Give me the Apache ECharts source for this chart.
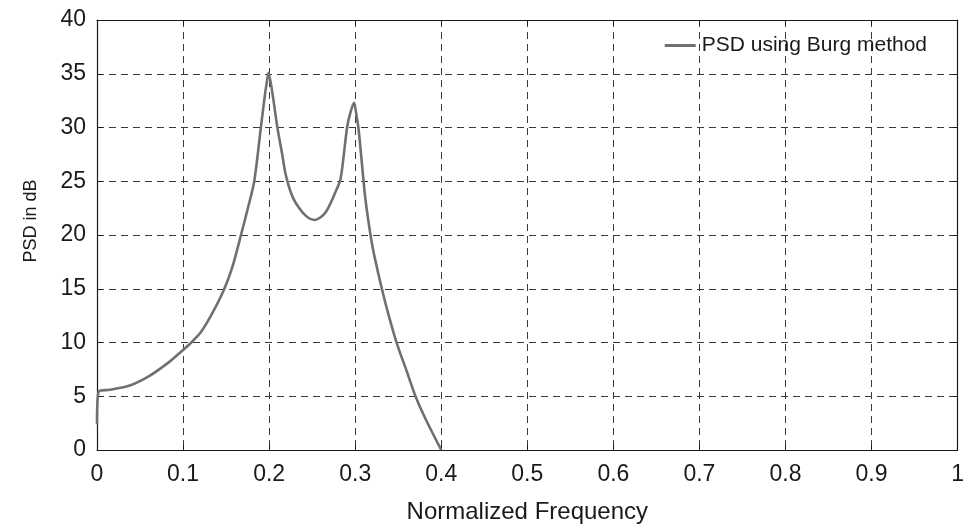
<!DOCTYPE html>
<html>
<head>
<meta charset="utf-8">
<script src="https://cdn.jsdelivr.net/npm/echarts@6/dist/echarts.min.js"></script>
<style>
html,body{margin:0;padding:0;background:#fff;}
#chart{width:967px;height:529px;}
</style>
</head>
<body>
<div id="chart"></div>
<script>
// ---- data ----
const seriesName = 'PSD using Burg method';
const freq = [0, 0.002, 0.015, 0.038, 0.061, 0.084, 0.1, 0.1095, 0.121, 0.1345, 0.148, 0.1576, 0.1673, 0.175, 0.1827, 0.1904, 0.1954, 0.1975, 0.1992,
  0.2038, 0.2096, 0.2154, 0.2193, 0.225, 0.2308, 0.2424, 0.2532, 0.2655, 0.2771, 0.2829, 0.2867, 0.2906, 0.2945, 0.2986,
  0.301, 0.304, 0.308, 0.3118, 0.3176, 0.3214, 0.331, 0.3387, 0.3483, 0.36, 0.3703, 0.3811, 0.4];
const psd = [2.4, 5.45, 5.6, 6.0, 6.9, 8.2, 9.3, 10.0, 11.0, 12.8, 15.0, 17.1, 20.0, 22.4, 25.0, 30.0, 33.2, 34.3, 35.1,
  33.2, 30.0, 27.4, 25.6, 24.0, 23.0, 21.8, 21.4, 22.1, 24.0, 25.2, 27.4, 30.0, 31.4, 32.3,
  31.4, 29.8, 26.5, 23.4, 20.1, 18.4, 15.0, 12.6, 9.95, 7.3, 4.96, 3.0, 0];
const xTicks = [0, 0.1, 0.2, 0.3, 0.4, 0.5, 0.6, 0.7, 0.8, 0.9, 1];
const xTickLabels = ['0', '0.1', '0.2', '0.3', '0.4', '0.5', '0.6', '0.7', '0.8', '0.9', '1'];
const yTickLabels = ['0', '5', '10', '15', '20', '25', '30', '35', '40'];
const xTitle = 'Normalized Frequency';
const yTitle = 'PSD in dB';

const points = freq.map((f, i) => [f, psd[i]]);
const FONT = '"Liberation Sans", Arial, Helvetica, sans-serif';

function xLabel(v) {
  const i = xTicks.findIndex(t => Math.abs(t - v) < 1e-6);
  return i >= 0 ? xTickLabels[i] : '';
}
function yLabel(v) {
  const i = Math.round(v / 5);
  return yTickLabels[i] !== undefined ? yTickLabels[i] : '';
}

const chart = echarts.init(document.getElementById('chart'), null, { renderer: 'canvas' });
const gridLine = { show: true, lineStyle: { color: '#3a3a3a', width: 1, type: [7, 5] } };
chart.setOption({
  backgroundColor: '#ffffff',
  animation: false,
  textStyle: { fontFamily: FONT },
  grid: { left: 97, right: 5, top: 20, bottom: 76, containLabel: false },
  legend: {
    show: true,
    right: 40,
    top: 35,
    padding: 0,
    itemWidth: 31,
    itemHeight: 3,
    icon: 'rect',
    textStyle: { fontSize: 21, color: '#1a1a1a', fontFamily: FONT, padding: [0, 0, 0, 1] },
    data: [{ name: seriesName, itemStyle: { color: '#707070' } }]
  },
  xAxis: [{
    type: 'value', min: 0, max: 1, interval: 0.1, position: 'bottom',
    name: xTitle, nameLocation: 'middle', nameGap: 50,
    nameTextStyle: { fontSize: 24, color: '#1a1a1a', fontFamily: FONT },
    axisLine: { show: true, onZero: false, lineStyle: { color: '#1a1a1a', width: 1.2 } },
    axisTick: { show: true, inside: true, length: 5, lineStyle: { color: '#1a1a1a' } },
    axisLabel: { fontSize: 23, color: '#1a1a1a', margin: 13, formatter: xLabel, fontFamily: FONT },
    splitLine: gridLine
  }, {
    type: 'value', min: 0, max: 1, interval: 0.1, position: 'top',
    axisLine: { show: true, onZero: false, lineStyle: { color: '#1a1a1a', width: 1.2 } },
    axisTick: { show: true, inside: true, length: 5, lineStyle: { color: '#1a1a1a' } },
    axisLabel: { show: false }, splitLine: { show: false }
  }],
  yAxis: [{
    type: 'value', min: 0, max: 40, interval: 5, position: 'left',
    name: yTitle, nameLocation: 'middle', nameGap: 57, nameRotate: 90,
    nameTextStyle: { fontSize: 18, color: '#1a1a1a', fontFamily: FONT, padding: [0, 0, 0, 28] },
    axisLine: { show: true, onZero: false, lineStyle: { color: '#1a1a1a', width: 1.2 } },
    axisTick: { show: true, inside: true, length: 5, lineStyle: { color: '#1a1a1a' } },
    axisLabel: { fontSize: 23, color: '#1a1a1a', margin: 11, formatter: yLabel, fontFamily: FONT },
    splitLine: gridLine
  }, {
    type: 'value', min: 0, max: 40, interval: 5, position: 'right',
    axisLine: { show: true, onZero: false, lineStyle: { color: '#1a1a1a', width: 1.2 } },
    axisTick: { show: true, inside: true, length: 5, lineStyle: { color: '#1a1a1a' } },
    axisLabel: { show: false }, splitLine: { show: false }
  }],
  series: [{
    name: seriesName,
    type: 'line',
    xAxisIndex: 0, yAxisIndex: 0,
    data: points,
    showSymbol: false,
    smooth: 0.3,
    lineStyle: { color: '#707070', width: 2.6 },
    itemStyle: { color: '#707070' },
    clip: true
  }]
});
</script>
</body>
</html>
